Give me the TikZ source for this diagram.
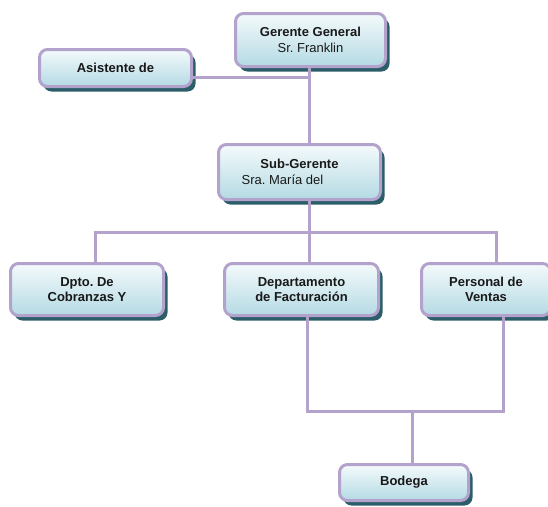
\documentclass[tikz,border=0pt]{standalone}
\usepackage{fontspec}
\setmainfont{Liberation Sans}
\usetikzlibrary{shadows}
\frenchspacing
\definecolor{lav}{RGB}{178,162,204}
\definecolor{shad}{RGB}{44,94,106}
\definecolor{topc}{RGB}{244,250,251}
\definecolor{botc}{RGB}{180,218,228}
\definecolor{txt}{RGB}{25,25,25}
\tikzset{
  orgbox/.style={draw=lav, line width=3pt, rounded corners=8pt,
    top color=topc, bottom color=botc, text=txt, align=center,
    inner sep=0pt,
    font=\fontsize{13}{15.5}\selectfont,
    drop shadow={shadow xshift=4pt, shadow yshift=-5pt, opacity=1, fill=shad}},
  link/.style={draw=lav, line width=3pt}
}
\begin{document}
\begin{tikzpicture}[x=1pt,y=-1pt]
\useasboundingbox (0,0) rectangle (548,506);
\node[orgbox, minimum width=150pt, minimum height=53pt] (gg) at (310.5,40)
  {\textbf{Gerente General}\\Sr. Franklin};
\node[orgbox, minimum width=152pt, minimum height=37pt] (as) at (115.5,68)
  {\textbf{Asistente de}};
\node[orgbox, minimum width=162pt, minimum height=55pt] (sg) at (299.5,172)
  {\textbf{Sub-Gerente}\\\mbox{Sra. María del\hspace{34pt}}};
\node[orgbox, minimum width=153pt, minimum height=52pt] (dp) at (87,289.5)
  {\textbf{Dpto. De}\\\textbf{Cobranzas Y}};
\node[orgbox, minimum width=154pt, minimum height=52pt] (df) at (301.5,289.5)
  {\textbf{Departamento}\\\textbf{de Facturación}};
\node[orgbox, minimum width=129pt, minimum height=52pt] (pv) at (486,289.5)
  {\textbf{Personal de}\\\textbf{Ventas}};
\node[orgbox, minimum width=129pt, minimum height=36pt] (bo) at (404,482.5)
  {\textbf{Bodega}};
\coordinate (j1) at (309,77);
\coordinate (j2) at (309,232);
\coordinate (hl) at (95,232);
\coordinate (hr) at (496,232);
\coordinate (bl) at (307,411);
\coordinate (br) at (503,411);
\coordinate (bj) at (412,411);
\draw[link] (as.east |- j1) -- (j1);
\draw[link] (gg.south -| j1) -- (sg.north -| j1);
\draw[link] (sg.south -| j2) -- (df.north -| j2);
\draw[link] (dp.north -| hl) -- (hl) -- (hr) -- (pv.north -| hr);
\draw[link] (df.south -| bl) -- (bl) -- (br) -- (pv.south -| br);
\draw[link] (bj) -- (bo.north -| bj);
\end{tikzpicture}
\end{document}
